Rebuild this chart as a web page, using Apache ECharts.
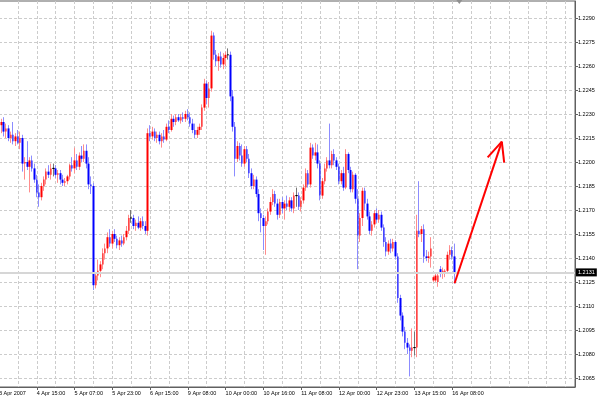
<!DOCTYPE html>
<html>
<head>
<meta charset="utf-8">
<script src="https://cdn.jsdelivr.net/npm/echarts@6.0.0/dist/echarts.min.js"></script>
<style>html,body{margin:0;padding:0;background:#fff}#c{width:600px;height:400px}</style>
</head>
<body>
<div id="c"></div>
<script>
// ---- data (hourly candles) ----
const tickLabels = ['3 Apr 2007','4 Apr 15:00','5 Apr 07:00','5 Apr 23:00','6 Apr 15:00','9 Apr 08:00','10 Apr 00:00','10 Apr 16:00','11 Apr 08:00','12 Apr 00:00','12 Apr 23:00','13 Apr 15:00','16 Apr 08:00'];
const barsPerLabel = 16;
const slotCount = 245;
const priceTicks = [1.2065,1.2080,1.2095,1.2110,1.2125,1.2140,1.2155,1.2170,1.2185,1.2200,1.2215,1.2230,1.2245,1.2260,1.2275,1.2290];
const yMin = 1.2059375;
const yMax = 1.2300625;
const bidPrice = 1.2131;

const open = [1.2226,1.2223,1.2225,1.2219,1.2221,1.2215,1.2217,1.2213,1.2216,1.2212,
1.2215,1.2199,1.2200,1.2197,1.2201,1.2196,1.2189,1.2181,1.2178,1.2185,
1.2189,1.2194,1.2192,1.2196,1.2196,1.2192,1.2193,1.2189,1.2187,1.2188,
1.2191,1.2198,1.2196,1.2201,1.2197,1.2204,1.2202,1.2207,1.2199,1.2186,
1.2185,1.2123,1.2129,1.2132,1.2136,1.2143,1.2146,1.2153,1.2149,1.2155,
1.2152,1.2148,1.2151,1.2149,1.2153,1.2157,1.2165,1.2165,1.2160,1.2162,
1.2159,1.2163,1.2160,1.2157,1.2218,1.2216,1.2219,1.2215,1.2217,1.2213,
1.2216,1.2214,1.2222,1.2220,1.2227,1.2225,1.2228,1.2226,1.2228,1.2227,
1.2230,1.2228,1.2224,1.2220,1.2217,1.2220,1.2222,1.2234,1.2249,1.2240,
1.2246,1.2279,1.2267,1.2263,1.2266,1.2261,1.2265,1.2267,1.2267,1.2241,
1.2222,1.2202,1.2210,1.2204,1.2199,1.2208,1.2202,1.2193,1.2185,1.2189,
1.2180,1.2168,1.2165,1.2160,1.2163,1.2169,1.2175,1.2180,1.2174,1.2167,
1.2175,1.2171,1.2174,1.2172,1.2176,1.2171,1.2179,1.2179,1.2172,1.2176,
1.2184,1.2193,1.2186,1.2209,1.2204,1.2206,1.2199,1.2179,1.2188,1.2196,
1.2201,1.2198,1.2205,1.2201,1.2197,1.2188,1.2193,1.2184,1.2205,1.2195,
1.2183,1.2192,1.2177,1.2154,1.2165,1.2182,1.2174,1.2166,1.2157,1.2161,
1.2168,1.2164,1.2167,1.2159,1.2150,1.2144,1.2149,1.2146,1.2150,1.2141,
1.2115,1.2104,1.2094,1.2087,1.2084,1.2082,1.2084,1.2084,1.2157,1.2155,
1.2158,1.2141,1.2140,1.2141,1.2126,1.2126,1.2125,1.2133,1.2131,1.2130,
1.2132,1.2142,1.2145,1.2141];
const high = [1.2229,1.2227,1.2228,1.2224,1.2223,1.2219,1.2225,1.2218,1.2220,1.2219,
1.2217,1.2203,1.2213,1.2203,1.2204,1.2199,1.2192,1.2186,1.2187,1.2191,
1.2196,1.2198,1.2199,1.2199,1.2198,1.2195,1.2195,1.2192,1.2190,1.2192,
1.2199,1.2203,1.2209,1.2205,1.2206,1.2210,1.2211,1.2211,1.2203,1.2191,
1.2187,1.2131,1.2139,1.2138,1.2146,1.2149,1.2156,1.2158,1.2157,1.2158,
1.2154,1.2153,1.2154,1.2155,1.2160,1.2167,1.2170,1.2167,1.2164,1.2166,
1.2165,1.2166,1.2163,1.2221,1.2223,1.2222,1.2221,1.2219,1.2219,1.2218,
1.2220,1.2224,1.2226,1.2230,1.2229,1.2230,1.2230,1.2230,1.2231,1.2232,
1.2233,1.2231,1.2227,1.2224,1.2222,1.2224,1.2236,1.2252,1.2251,1.2250,
1.2282,1.2281,1.2270,1.2268,1.2269,1.2268,1.2269,1.2271,1.2269,1.2245,
1.2225,1.2213,1.2212,1.2211,1.2210,1.2210,1.2205,1.2196,1.2192,1.2191,
1.2183,1.2171,1.2167,1.2166,1.2171,1.2178,1.2183,1.2182,1.2177,1.2177,
1.2178,1.2176,1.2179,1.2178,1.2178,1.2181,1.2184,1.2181,1.2178,1.2186,
1.2196,1.2195,1.2212,1.2211,1.2212,1.2211,1.2201,1.2190,1.2199,1.2203,
1.2224,1.2207,1.2208,1.2203,1.2199,1.2195,1.2197,1.2208,1.2206,1.2197,
1.2194,1.2193,1.2183,1.2168,1.2184,1.2184,1.2177,1.2169,1.2163,1.2170,
1.2171,1.2170,1.2169,1.2161,1.2153,1.2151,1.2152,1.2152,1.2151,1.2143,
1.2117,1.2106,1.2097,1.2090,1.2086,1.2096,1.2094,1.2167,1.2188,1.2160,
1.2161,1.2145,1.2144,1.2153,1.2129,1.2130,1.2131,1.2135,1.2134,1.2133,
1.2144,1.2148,1.2147,1.2149];
const low = [1.2219,1.2218,1.2216,1.2215,1.2213,1.2212,1.2211,1.2210,1.2211,1.2208,
1.2194,1.2189,1.2195,1.2181,1.2194,1.2187,1.2178,1.2172,1.2176,1.2182,
1.2186,1.2190,1.2189,1.2191,1.2190,1.2187,1.2186,1.2185,1.2185,1.2186,
1.2189,1.2194,1.2193,1.2195,1.2195,1.2200,1.2200,1.2196,1.2183,1.2180,
1.2120,1.2121,1.2126,1.2128,1.2133,1.2139,1.2143,1.2147,1.2146,1.2150,
1.2146,1.2145,1.2147,1.2148,1.2151,1.2155,1.2162,1.2158,1.2157,1.2158,
1.2157,1.2158,1.2155,1.2154,1.2213,1.2214,1.2213,1.2212,1.2211,1.2209,
1.2212,1.2213,1.2218,1.2219,1.2222,1.2223,1.2225,1.2224,1.2225,1.2225,
1.2226,1.2222,1.2218,1.2215,1.2215,1.2217,1.2220,1.2232,1.2236,1.2234,
1.2244,1.2264,1.2260,1.2257,1.2259,1.2258,1.2260,1.2264,1.2238,1.2219,
1.2191,1.2200,1.2201,1.2197,1.2197,1.2200,1.2190,1.2183,1.2183,1.2178,
1.2163,1.2156,1.2145,1.2142,1.2161,1.2167,1.2173,1.2172,1.2164,1.2165,
1.2168,1.2164,1.2170,1.2169,1.2169,1.2168,1.2172,1.2170,1.2169,1.2174,
1.2182,1.2184,1.2184,1.2202,1.2201,1.2196,1.2176,1.2177,1.2186,1.2194,
1.2196,1.2196,1.2198,1.2195,1.2186,1.2186,1.2182,1.2183,1.2193,1.2181,
1.2181,1.2174,1.2133,1.2150,1.2160,1.2170,1.2164,1.2155,1.2154,1.2159,
1.2162,1.2162,1.2157,1.2147,1.2141,1.2142,1.2143,1.2144,1.2139,1.2112,
1.2101,1.2091,1.2083,1.2080,1.2066,1.2078,1.2079,1.2078,1.2153,1.2150,
1.2137,1.2138,1.2137,1.2134,1.2125,1.2125,1.2122,1.2128,1.2127,1.2128,
1.2130,1.2139,1.2139,1.2124];
const close = [1.2223,1.2225,1.2219,1.2221,1.2215,1.2217,1.2213,1.2216,1.2212,1.2215,
1.2199,1.2200,1.2197,1.2201,1.2196,1.2189,1.2181,1.2178,1.2185,1.2189,
1.2194,1.2192,1.2196,1.2196,1.2192,1.2193,1.2189,1.2187,1.2188,1.2191,
1.2198,1.2196,1.2201,1.2197,1.2204,1.2202,1.2207,1.2199,1.2186,1.2185,
1.2123,1.2129,1.2132,1.2136,1.2143,1.2146,1.2153,1.2149,1.2155,1.2152,
1.2148,1.2151,1.2149,1.2153,1.2157,1.2165,1.2165,1.2160,1.2162,1.2159,
1.2163,1.2160,1.2157,1.2218,1.2216,1.2219,1.2215,1.2217,1.2213,1.2216,
1.2214,1.2222,1.2220,1.2227,1.2225,1.2228,1.2226,1.2228,1.2227,1.2230,
1.2228,1.2224,1.2220,1.2217,1.2220,1.2222,1.2234,1.2249,1.2240,1.2246,
1.2279,1.2267,1.2263,1.2266,1.2261,1.2265,1.2267,1.2267,1.2241,1.2222,
1.2202,1.2210,1.2204,1.2199,1.2208,1.2202,1.2193,1.2185,1.2189,1.2180,
1.2168,1.2165,1.2160,1.2163,1.2169,1.2175,1.2180,1.2174,1.2167,1.2175,
1.2171,1.2174,1.2172,1.2176,1.2171,1.2179,1.2179,1.2172,1.2176,1.2184,
1.2193,1.2186,1.2209,1.2204,1.2206,1.2199,1.2179,1.2188,1.2196,1.2201,
1.2198,1.2205,1.2201,1.2197,1.2188,1.2193,1.2184,1.2205,1.2195,1.2183,
1.2192,1.2177,1.2154,1.2165,1.2182,1.2174,1.2166,1.2157,1.2161,1.2168,
1.2164,1.2167,1.2159,1.2150,1.2144,1.2149,1.2146,1.2150,1.2141,1.2115,
1.2104,1.2094,1.2087,1.2084,1.2082,1.2084,1.2084,1.2157,1.2155,1.2158,
1.2141,1.2140,1.2141,1.2146,1.2128,1.2129,1.2129,1.2131,1.2132,1.2132,
1.2142,1.2145,1.2141,1.2131];

// hand-drawn arrow annotation: [bar index, price]
const arrowTail = [193, 1.21242];
const arrowTip = [213, 1.22127];
const arrowBarbLeft = [207, 1.22029];
const arrowBarbRight = [214, 1.21996];
const shiftMarkerIndex = 195;

// ---- build ----
const categories = Array.from({length: slotCount}, (_, i) => String(i));
const isLabelSlot = (i) => i % barsPerLabel === 0 && i / barsPerLabel < tickLabels.length;

const UP = '#ff0000', DOWN = '#0000ff', UP_W = '#ff8c8c', DOWN_W = '#8c8cff';

const wickData = open.map((o, i) => {
  const v = [o, close[i], low[i], high[i]];
  if (o === close[i]) return {value: v, itemStyle: {color: '#777', color0: '#777', borderColor: '#777', borderColor0: '#777'}};
  return v;
});
const bodyData = open.map((o, i) => {
  const c = close[i];
  const v = [o, c, Math.min(o, c), Math.max(o, c)];
  if (o === c) return {value: v, itemStyle: {color: '#000', color0: '#000', borderColor: '#000', borderColor0: '#000', borderWidth: 1}};
  return v;
});

const font = 'Liberation Sans, Arial, sans-serif';
const chart = echarts.init(document.getElementById('c'), null, {renderer: 'canvas'});
chart.setOption({
  animation: false,
  backgroundColor: '#ffffff',
  grid: {left: -1, right: 25, top: 1, bottom: 13, containLabel: false, outerBoundsMode: 'none',
         show: true, borderColor: '#606060', borderWidth: 1},
  xAxis: {
    type: 'category', data: categories, boundaryGap: false,
    axisLine: {show: true, lineStyle: {color: '#606060', width: 1}},
    axisTick: {show: true, interval: (i) => isLabelSlot(i), length: 3, lineStyle: {color: '#606060'}},
    axisLabel: {interval: (i) => isLabelSlot(i), formatter: (v, i) => tickLabels[i / barsPerLabel] || '',
                align: 'left', fontSize: 5.5, fontFamily: font, color: '#000', margin: 3, showMinLabel: true},
    splitLine: {show: true, interval: 7, lineStyle: {color: '#cccccc', type: [3, 2], width: 1}}
  },
  yAxis: {
    type: 'value', position: 'right', min: yMin, max: yMax, scale: true,
    axisLine: {show: true, lineStyle: {color: '#606060', width: 1}},
    axisTick: {show: true, customValues: priceTicks, length: 3, lineStyle: {color: '#606060'}},
    axisLabel: {customValues: priceTicks, formatter: (v) => v.toFixed(4), fontSize: 5.5, fontFamily: font, color: '#000', margin: 3},
    splitLine: {show: true, lineStyle: {color: '#cccccc', type: [3, 2], width: 1}}
  },
  series: [
    {
      name: 'bid', type: 'line', data: [], z: 1, silent: true,
      markLine: {
        silent: true, symbol: 'none',
        data: [[{coord: [0, bidPrice]}, {coord: [slotCount - 1, bidPrice]}]],
        lineStyle: {color: '#d6d6d6', width: 2, type: 'solid', opacity: 1},
        label: {show: true, position: 'end', formatter: bidPrice.toFixed(4), backgroundColor: '#000', color: '#fff',
                fontSize: 5.5, fontFamily: font, padding: [1, 2, 1, 2], distance: 1}
      }
    },
    {
      name: 'wicks', type: 'candlestick', data: wickData, barWidth: 1, z: 3,
      itemStyle: {color: UP_W, color0: DOWN_W, borderColor: UP_W, borderColor0: DOWN_W, borderWidth: 1}
    },
    {
      name: 'bodies', type: 'candlestick', data: bodyData, barWidth: 2, z: 4,
      itemStyle: {color: UP, color0: DOWN, borderColor: UP, borderColor0: DOWN, borderWidth: 0},
      markLine: {
        silent: true, symbol: 'none',
        lineStyle: {color: '#ff0000', width: 2, type: 'solid', opacity: 1},
        label: {show: false},
        data: [
          [{coord: arrowTail}, {coord: arrowTip}],
          [{coord: arrowBarbLeft}, {coord: arrowTip}],
          [{coord: arrowBarbRight}, {coord: arrowTip}]
        ]
      },
      markPoint: {
        silent: true,
        data: [{coord: [shiftMarkerIndex, yMax], symbol: 'triangle', symbolRotate: 180, symbolSize: [6, 4], symbolOffset: [0, 1]}],
        itemStyle: {color: '#909090'},
        label: {show: false}
      }
    }
  ]
});
</script>
</body>
</html>
